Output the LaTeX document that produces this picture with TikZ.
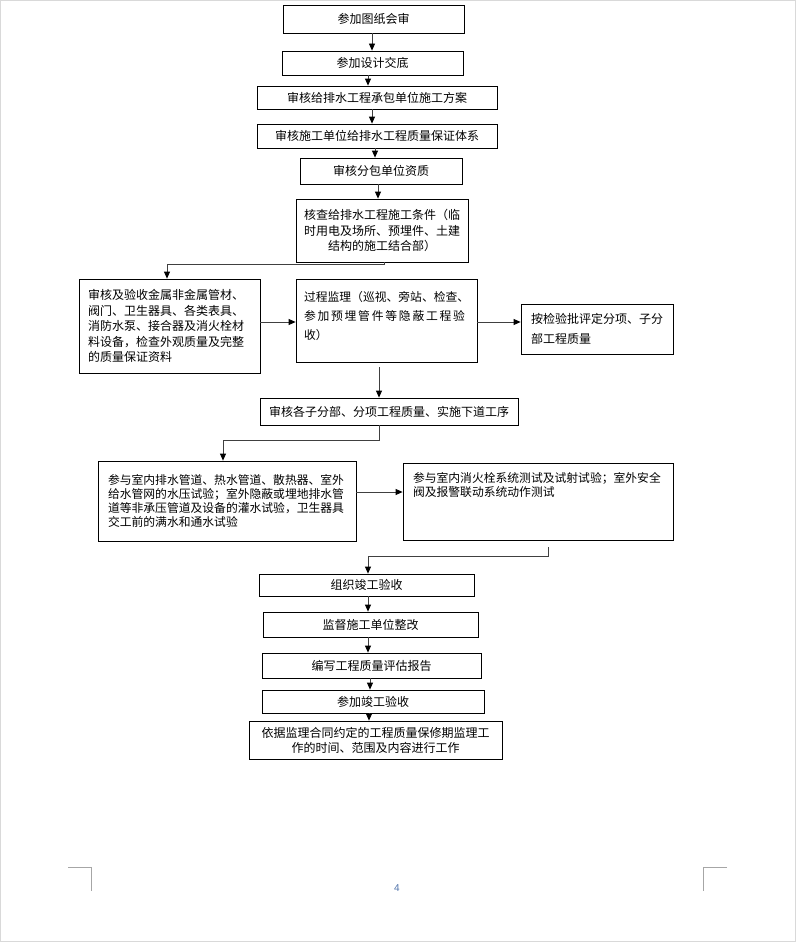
\documentclass[tikz,border=0pt]{standalone}
\usepackage{fontspec}
\setmainfont{Noto Sans CJK SC}
\newfontfamily\latinfont{Liberation Sans}
\usetikzlibrary{arrows.meta}
\newcommand{\topbox}[4]{\parbox[c][#2][t]{#1}{\raggedright\rule{0pt}{#3}#4}}
\begin{document}
\begin{tikzpicture}[x=1pt,y=-1pt,
  box/.style={draw=black, line width=0.8pt, inner sep=0pt, font=\fontsize{12}{15}\selectfont},
  conn/.style={draw=black!75, line width=0.8pt, -{Triangle[length=7pt,width=6pt,color=black]}},
  pagemark/.style={draw=black!35, line width=0.6pt}]
\useasboundingbox (0,0) rectangle (796,942);
\draw[black!15, line width=1pt] (0.5,0.5) rectangle (795.5,941.5);

% boxes
\node[box, minimum width=181pt, minimum height=28pt] (b1) at (373.5,19) {参加图纸会审};
\node[box, minimum width=181pt, minimum height=24pt] (b2) at (372.5,63) {参加设计交底};
\node[box, minimum width=240pt, minimum height=23pt] (b3) at (377,97.5) {审核给排水工程承包单位施工方案};
\node[box, minimum width=240pt, minimum height=24pt] (b4) at (377,136) {审核施工单位给排水工程质量保证体系};
\node[box, minimum width=162pt, minimum height=26pt] (b5) at (381,171) {审核分包单位资质};
\node[box, minimum width=172pt, minimum height=63pt, text width=160pt, align=center,
      font=\fontsize{12}{15.2}\selectfont] (b6) at (382,230.5)
  {核查给排水工程施工条件（临\\时用电及场所、预埋件、土建\\结构的施工结合部）};
\node[box, minimum width=181pt, minimum height=94pt, text width=163pt, align=left,
      font=\fontsize{12}{15.4}\selectfont] (b7) at (169.5,326)
  {审核及验收金属非金属管材、\\阀门、卫生器具、各类表具、\\消防水泵、接合器及消火栓材\\料设备，检查外观质量及完整\\的质量保证资料};
\node[box, minimum width=181pt, minimum height=83pt, font=\fontsize{11.8}{19}\selectfont] (b8) at (386.5,320.5)
  {\topbox{165pt}{83pt}{22.5pt}{过程监理（巡视、旁站、检查、\\\makebox[161pt]{参\hfill 加\hfill 预\hfill 埋\hfill 管\hfill 件\hfill 等\hfill 隐\hfill 蔽\hfill 工\hfill 程\hfill 验}\\收）}};
\node[box, minimum width=152pt, minimum height=50pt, text width=132pt, align=left,
      font=\fontsize{12}{20.7}\selectfont] (b9) at (597,329)
  {按检验批评定分项、子分\\部工程质量};
\node[box, minimum width=258pt, minimum height=27pt] (b10) at (389,411.5) {审核各子分部、分项工程质量、实施下道工序};
\node[box, minimum width=258pt, minimum height=80pt, text width=238pt, align=left,
      font=\fontsize{11.8}{14.3}\selectfont] (b11) at (227,501)
  {参与室内排水管道、热水管道、散热器、室外\\给水管网的水压试验；室外隐蔽或埋地排水管\\道等非承压管道及设备的灌水试验，卫生器具\\交工前的满水和通水试验};
\node[box, minimum width=270pt, minimum height=77pt, font=\fontsize{11.8}{13.5}\selectfont] (b12) at (538,501.5)
  {\topbox{250pt}{77pt}{19.8pt}{参与室内消火栓系统测试及试射试验；室外安全\\阀及报警联动系统动作测试}};
\node[box, minimum width=215pt, minimum height=22pt] (b13) at (366.5,585) {组织竣工验收};
\node[box, minimum width=215pt, minimum height=25pt] (b14) at (370.5,624.5) {监督施工单位整改};
\node[box, minimum width=219pt, minimum height=25pt] (b15) at (371.5,665.5) {编写工程质量评估报告};
\node[box, minimum width=222pt, minimum height=23pt] (b16) at (373,701.5) {参加竣工验收};
\node[box, minimum width=253pt, minimum height=38pt, text width=240pt, align=center] (b17) at (375.5,740)
  {依据监理合同约定的工程质量保修期监理工\\作的时间、范围及内容进行工作};

% connector positions
\coordinate (a1) at (372,0);
\coordinate (a2) at (368,0);
\coordinate (a3) at (372,0);
\coordinate (a4) at (375,0);
\coordinate (a5) at (378,0);
\coordinate (k6) at (384,264);
\coordinate (j6) at (167,0);
\coordinate (h7) at (0,322);
\coordinate (s8) at (379,367);
\coordinate (k10) at (379,440);
\coordinate (j10) at (223,0);
\coordinate (h11) at (0,492);
\coordinate (s12) at (548,547);
\coordinate (k12) at (548,556);
\coordinate (j12) at (368,0);
\coordinate (a13) at (368,0);
\coordinate (a14) at (368,0);
\coordinate (a15) at (370,0);
\coordinate (a16) at (369,0);

% connectors
\draw[conn] (b1.south -| a1) -- (b2.north -| a1);
\draw[conn] (b2.south -| a2) -- (b3.north -| a2);
\draw[conn] (b3.south -| a3) -- (b4.north -| a3);
\draw[conn] (b4.south -| a4) -- (b5.north -| a4);
\draw[conn] (b5.south -| a5) -- (b6.north -| a5);
\draw[conn] (b6.south -| k6) -- (k6) -| (b7.north -| j6);
\draw[conn] (b7.east |- h7) -- (b8.west |- h7);
\draw[conn] (b8.east |- h7) -- (b9.west |- h7);
\draw[conn] (s8) -- (b10.north -| s8);
\draw[conn] (b10.south -| k10) -- (k10) -| (b11.north -| j10);
\draw[conn] (b11.east |- h11) -- (b12.west |- h11);
\draw[conn] (s12) -- (k12) -| (b13.north -| j12);
\draw[conn] (b13.south -| a13) -- (b14.north -| a13);
\draw[conn] (b14.south -| a14) -- (b15.north -| a14);
\draw[conn] (b15.south -| a15) -- (b16.north -| a15);
\draw[conn] (b16.south -| a16) -- (b17.north -| a16);

% page furniture
\draw[pagemark] (68,867) -- (91.5,867) -- (91.5,891);
\draw[pagemark] (727,867) -- (703.5,867) -- (703.5,891);
\node[font=\latinfont\fontsize{10}{12}\selectfont, text={rgb,255:red,80;green,115;blue,170}] (pg) at (397,888) {4};
\end{tikzpicture}
\end{document}
